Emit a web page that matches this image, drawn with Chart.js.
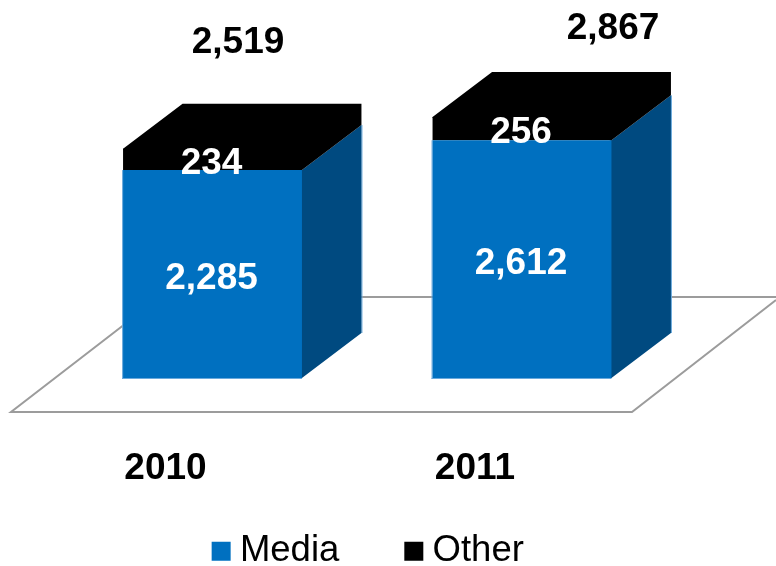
<!DOCTYPE html>
<html>
<head>
<meta charset="utf-8">
<style>
  html, body { margin: 0; padding: 0; background: #fff; }
  #wrap { position: relative; width: 776px; height: 566px; }
</style>
<script src="https://cdn.jsdelivr.net/npm/chart.js@4"></script>
</head>
<body>
<div id="wrap"><canvas id="chart" width="776" height="566"></canvas></div>
<script>
const categories = ['2010', '2011'];
const mediaValues = [2285, 2612];
const otherValues = [234, 256];
const totalValues = [2519, 2867];

const FONT = '"Liberation Sans", Arial, sans-serif';
const MEDIA_BLUE = '#0070c0';
const MEDIA_SIDE = '#004a80';
const OTHER_BLACK = '#000000';
const EDGE_BLUE = '#6aa9dc';
const DEPTH_X = 59.5;
const DEPTH_Y = 45;
const TOTAL_SHIFT = [[25.5, 43], [91, 29]];

const fmt = v => v.toLocaleString('en-US');

function poly(ctx, pts, fill) {
  ctx.beginPath();
  pts.forEach((p, i) => i ? ctx.lineTo(p[0], p[1]) : ctx.moveTo(p[0], p[1]));
  ctx.closePath();
  ctx.fillStyle = fill;
  ctx.fill();
}

// Floor plane, extruded faces and value captions for the stacked columns.
const boxes3d = {
  id: 'boxes3d',
  beforeDatasetsDraw(chart) {
    const { ctx, chartArea } = chart;
    const floorFront = chartArea.bottom + 34;
    const floorBack = chartArea.bottom - 81;
    ctx.save();
    ctx.lineWidth = 2;
    ctx.strokeStyle = '#9c9c9c';
    ctx.beginPath();
    ctx.moveTo(776, floorBack);
    ctx.lineTo(160, floorBack);
    ctx.moveTo(160, floorBack);
    ctx.lineTo(11, floorFront);
    ctx.lineTo(632, floorFront);
    ctx.lineTo(776, floorBack + 3);
    ctx.stroke();

    const [media, other] = [chart.getDatasetMeta(0), chart.getDatasetMeta(1)];
    media.data.forEach((bar, i) => {
      const top = other.data[i];
      const l = bar.x - bar.width / 2;
      const r = bar.x + bar.width / 2;
      // Pale rim along the outer edges of the blue column
      ctx.fillStyle = EDGE_BLUE;
      ctx.fillRect(l - 1, bar.y, 1, bar.base - bar.y + 1);
      ctx.fillRect(l - 1, bar.base, bar.width + 1, 1);
      ctx.fillRect(r + DEPTH_X, bar.y - DEPTH_Y, 1, bar.base - bar.y);
      // Right-hand face of the blue segment
      poly(ctx, [[r - 1, bar.base], [r, bar.base], [r + DEPTH_X, bar.base - DEPTH_Y], [r + DEPTH_X, bar.y - DEPTH_Y], [r, bar.y], [r - 1, bar.y]], MEDIA_SIDE);
      // Black cap: top and right faces share one outline
      poly(ctx, [
        [l, top.y + 1], [l, top.y], [l + DEPTH_X, top.y - DEPTH_Y], [r + DEPTH_X, top.y - DEPTH_Y],
        [r + DEPTH_X, bar.y - DEPTH_Y], [r, bar.y], [r - 2, bar.y], [r - 2, top.y + 1]
      ], OTHER_BLACK);
    });
    ctx.restore();
  },
  afterDatasetsDraw(chart) {
    const { ctx } = chart;
    ctx.save();
    ctx.textAlign = 'center';
    ctx.textBaseline = 'middle';
    ctx.font = 'bold 37px ' + FONT;
    [0, 1].forEach(d => {
      const meta = chart.getDatasetMeta(d);
      meta.data.forEach((bar, i) => {
        ctx.fillStyle = '#ffffff';
        ctx.fillText(fmt(chart.data.datasets[d].data[i]), bar.x - 1, (bar.y + bar.base) / 2 + 4.5);
      });
    });
    const media = chart.getDatasetMeta(0);
    ctx.fillStyle = '#000000';
    totalValues.forEach((v, i) => {
      ctx.fillText(fmt(v), media.data[i].x + TOTAL_SHIFT[i][0], TOTAL_SHIFT[i][1]);
    });
    ctx.restore();
  }
};

new Chart(document.getElementById('chart'), {
  type: 'bar',
  data: {
    labels: categories,
    datasets: [
      { label: 'Media', data: mediaValues, backgroundColor: MEDIA_BLUE, borderWidth: 0 },
      { label: 'Other', data: otherValues, backgroundColor: OTHER_BLACK, borderWidth: 0 }
    ]
  },
  plugins: [boxes3d],
  options: {
    responsive: false,
    animation: false,
    events: [],
    layout: { padding: { left: 57.75, right: 89.25, top: 14, bottom: 0 } },
    datasets: { bar: { categoryPercentage: 1, barPercentage: 0.578 } },
    scales: {
      x: {
        stacked: true,
        grid: { display: false },
        border: { display: false },
        ticks: {
          color: '#000',
          font: { family: FONT, size: 37, weight: 'bold' },
          labelOffset: -47,
          padding: -113,
          mirror: true,
          maxRotation: 0
        },
        afterFit(axis) { axis.height = 81; }
      },
      y: {
        stacked: true,
        min: 0,
        max: 4000,
        position: 'right',
        grid: { display: false },
        border: { display: false },
        ticks: { display: false },
        afterFit(axis) { axis.width = 10; }
      }
    },
    plugins: {
      tooltip: { enabled: false },
      legend: {
        position: 'bottom',
        maxHeight: 107,
        labels: {
          usePointStyle: true,
          pointStyle: 'rect',
          boxWidth: 1,
          boxHeight: 19,
          padding: 74,
          color: '#000',
          font: { family: FONT, size: 36.5 }
        }
      }
    }
  }
});
</script>
</body>
</html>
